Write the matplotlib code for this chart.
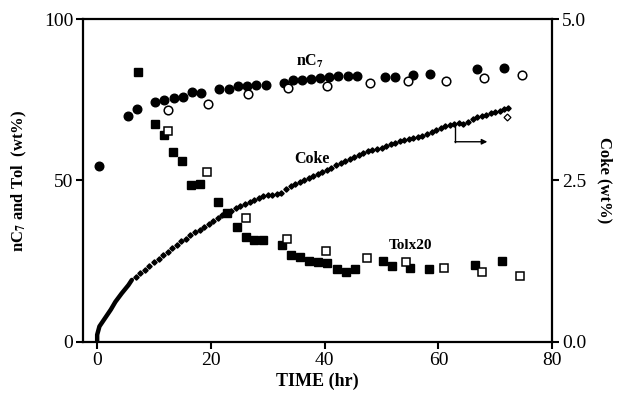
import numpy as np
import matplotlib
matplotlib.use("Agg")
import matplotlib.pyplot as plt

plt.rcParams["font.family"] = "Liberation Serif"
plt.rcParams["mathtext.fontset"] = "stix"

# nC7 (wt%), filled = run, open = repeat
nc7_t = [0.35, 5.4, 7.0, 10.2, 11.8, 13.5, 15.1, 16.7, 18.3, 21.5, 23.1, 24.7, 26.4, 28.0,
         29.6, 32.9, 34.4, 36.0, 37.6, 39.2, 40.8, 42.4, 44.1, 45.6, 50.6, 52.3, 55.5, 58.6,
         66.7, 71.5]
nc7_v = [54.5, 70.1, 72.1, 74.3, 74.8, 75.6, 75.9, 77.5, 77.2, 78.4, 78.3, 79.3, 79.4, 79.6,
         79.6, 80.2, 81.2, 81.2, 81.5, 81.8, 82.1, 82.4, 82.4, 82.4, 82.1, 82.1, 82.8, 83.0,
         84.4, 84.7]
nc7_open_t = [12.5, 19.5, 26.5, 33.5, 40.5, 47.9, 54.6, 61.3, 68.0, 74.7]
nc7_open_v = [71.8, 73.6, 76.8, 78.6, 79.4, 80.3, 80.7, 80.8, 81.8, 82.7]

# Toluene x20 (wt%)
tol_t = [7.1, 10.2, 11.7, 13.4, 14.9, 16.5, 18.1, 21.3, 22.8, 24.5, 26.1, 27.6, 29.2, 32.5,
         34.0, 35.6, 37.3, 38.8, 40.4, 42.1, 43.7, 45.3, 50.3, 51.8, 55.0, 58.3, 66.4, 71.2]
tol_v = [83.5, 67.5, 64.2, 58.9, 55.9, 48.5, 48.9, 43.2, 39.9, 35.5, 32.5, 31.5, 31.5, 30.0,
         26.9, 26.2, 25.1, 24.7, 24.4, 22.6, 21.7, 22.5, 25.0, 23.5, 22.8, 22.5, 23.9, 25.0]
tol_open_t = [12.5, 19.3, 26.2, 33.3, 40.3, 47.5, 54.3, 60.9, 67.7, 74.4]
tol_open_v = [65.4, 52.7, 38.3, 32.0, 28.2, 25.9, 24.8, 22.9, 21.7, 20.4]

# Coke (wt%): dense early record, then discrete points
coke_early_t = [0.0, 0.0, 0.4, 1.4, 2.4, 3.2, 4.3, 5.5, 6.1]
coke_early_v = [0.0, 0.11, 0.24, 0.37, 0.50, 0.62, 0.75, 0.88, 0.96]
coke_t = [6.8, 7.6, 8.4, 9.2, 10.0, 10.8, 11.6, 12.4, 13.2, 14.0, 14.8, 15.6, 16.4, 17.2,
          18.0, 18.8, 19.6, 20.4, 21.2, 22.0, 22.8, 23.6, 24.4, 25.2, 26.0, 26.8, 27.6, 28.4,
          29.2, 30.0, 30.8, 31.6, 32.4, 33.2, 34.0, 34.8, 35.6, 36.4, 37.2, 38.0, 38.8, 39.6,
          40.4, 41.2, 42.0, 42.8, 43.6, 44.4, 45.2, 46.0, 46.8, 47.6, 48.4, 49.2, 50.0, 50.8,
          51.6, 52.4, 53.2, 54.0, 54.8, 55.6, 56.4, 57.2, 58.0, 58.8, 59.6, 60.4, 61.2, 62.0,
          62.8, 63.6, 64.4, 65.2, 66.0, 66.8, 67.6, 68.4, 69.2, 70.0, 70.8, 71.6, 72.2]
coke_v = [1.00, 1.06, 1.12, 1.18, 1.24, 1.29, 1.35, 1.40, 1.45, 1.50, 1.56, 1.60, 1.65, 1.70,
          1.74, 1.78, 1.83, 1.87, 1.92, 1.96, 2.00, 2.03, 2.07, 2.11, 2.14, 2.17, 2.20, 2.23,
          2.26, 2.27, 2.28, 2.29, 2.31, 2.37, 2.41, 2.44, 2.48, 2.51, 2.54, 2.57, 2.60, 2.63,
          2.66, 2.70, 2.74, 2.77, 2.80, 2.83, 2.86, 2.89, 2.93, 2.95, 2.97, 2.99, 3.01, 3.04,
          3.06, 3.08, 3.11, 3.13, 3.15, 3.16, 3.17, 3.19, 3.22, 3.25, 3.28, 3.31, 3.34, 3.36,
          3.37, 3.39, 3.38, 3.41, 3.45, 3.48, 3.50, 3.52, 3.54, 3.56, 3.58, 3.60, 3.63]
coke_open_t = [72.0]
coke_open_v = [3.48]

fig = plt.figure(figsize=(6.19, 3.98), dpi=100)
ax = fig.add_axes([0.134, 0.141, 0.758, 0.811])
ax2 = ax.twinx()

ax.plot(nc7_t, nc7_v, "o", color="black", ms=6.2, clip_on=False)
ax.plot(nc7_open_t, nc7_open_v, "o", mfc="white", mec="black", mew=1.1, ms=6.2, clip_on=False)
ax.plot(tol_t, tol_v, "s", color="black", ms=5.3, clip_on=False)
ax.plot(tol_open_t, tol_open_v, "s", mfc="white", mec="black", mew=1.1, ms=5.3, clip_on=False)

ax2.plot(coke_early_t, coke_early_v, "-", color="black", lw=3.2, solid_capstyle="round")
ax2.plot(coke_t, coke_v, "D", color="black", ms=2.7)
ax2.plot(coke_open_t, coke_open_v, "D", mfc="white", mec="black", mew=0.9, ms=3.5)

# arrow pointing to the right axis
ax.plot([62.9, 62.9], [67.2, 62.0], color="black", lw=1)
ax.annotate("", xy=(68.6, 62.0), xytext=(62.9, 62.0),
            arrowprops=dict(arrowstyle="-|>", color="black", lw=1, mutation_scale=8,
                            shrinkA=0, shrinkB=0))

ax.text(37.4, 86.8, r"nC$_\mathbf{7}$", fontsize=11.5, fontweight="bold", ha="center", va="center")
ax.text(37.7, 56.6, "Coke", fontsize=11.5, fontweight="bold", ha="center", va="center")
ax.text(55.1, 30.0, "Tolx20", fontsize=11, fontweight="bold", ha="center", va="center")

ax.set_xlim(-2.5, 80)
ax.set_ylim(0, 100)
ax2.set_ylim(0, 5)
ax.set_xticks([0, 20, 40, 60, 80])
ax.set_yticks([0, 50, 100])
ax2.set_yticks([0, 2.5, 5.0])
ax2.set_yticklabels(["0.0", "2.5", "5.0"])

for a in (ax, ax2):
    for s in a.spines.values():
        s.set_linewidth(1.6)
    a.spines["top"].set_visible(False)
    a.tick_params(direction="out", length=5, width=1.5, labelsize=14, pad=2)
ax.spines["right"].set_visible(False)
ax2.spines["left"].set_visible(False)
ax2.spines["bottom"].set_visible(False)
ax.spines["top"].set_visible(True)
ax.spines["top"].set_linewidth(1.6)

ax.set_xlabel("TIME (hr)", fontsize=13, fontweight="bold", labelpad=3)
ax.set_ylabel(r"nC$_\mathbf{7}$ and Tol  (wt%)", fontsize=12, fontweight="bold", labelpad=11)
ax2.set_ylabel("Coke (wt%)", fontsize=12, fontweight="bold", rotation=270, labelpad=19)

fig.savefig("out.png", dpi=100)
